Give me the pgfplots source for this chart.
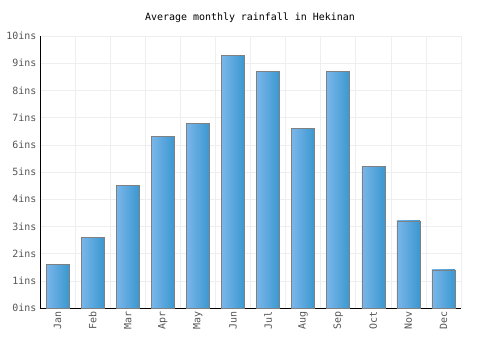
\documentclass[border=0pt]{standalone}
\usepackage{pgfplots}
\pgfplotsset{compat=1.18}
\usepackage{fontspec}
\setmainfont{DejaVu Sans Mono}
\setmonofont{DejaVu Sans Mono}
\definecolor{barL}{RGB}{122,182,234}
\definecolor{barR}{RGB}{58,152,208}
\definecolor{gridc}{RGB}{238,238,238}
\definecolor{lbl}{RGB}{85,85,85}
\pgfplotsset{mybar/.style={ybar, bar shift=0pt, bar width=23bp, draw=gray, line width=0.6pt, left color=barL, right color=barR}}
\begin{document}
\begin{tikzpicture}[x=1bp,y=1bp]
\path (0,0) rectangle (500,350);
\node[font=\fontsize{10}{12}\selectfont, text=black] at (250,332) {Average monthly rainfall in Hekinan};
\begin{axis}[
  at={(40bp,42bp)}, anchor=origin,
  scale only axis, width=421bp, height=272bp,
  xmin=0.5, xmax=12.5, ymin=0, ymax=10,
  axis x line*=bottom, axis y line*=left,
  axis line style={black, line width=0.8pt, -},
  xtick={1,...,12},
  xticklabels={Jan,Feb,Mar,Apr,May,Jun,Jul,Aug,Sep,Oct,Nov,Dec},
  x tick label style={rotate=90, anchor=east, font=\fontsize{10}{12}\selectfont, text=lbl},
  minor xtick={0.5,1.5,...,12.5},
  ytick={0,1,...,10},
  yticklabels={0ins,1ins,2ins,3ins,4ins,5ins,6ins,7ins,8ins,9ins,10ins},
  y tick label style={font=\fontsize{10}{12}\selectfont, text=lbl},
  major tick length=0pt, minor tick length=0pt,
  ymajorgrids, xminorgrids,
  major grid style={gridc, line width=0.6pt},
  minor grid style={gridc, line width=0.6pt},
  enlargelimits=false, clip=false,
]
\addplot[mybar] coordinates {(1,1.6)};
\addplot[mybar] coordinates {(2,2.6)};
\addplot[mybar] coordinates {(3,4.5)};
\addplot[mybar] coordinates {(4,6.3)};
\addplot[mybar] coordinates {(5,6.8)};
\addplot[mybar] coordinates {(6,9.3)};
\addplot[mybar] coordinates {(7,8.7)};
\addplot[mybar] coordinates {(8,6.6)};
\addplot[mybar] coordinates {(9,8.7)};
\addplot[mybar] coordinates {(10,5.2)};
\addplot[mybar] coordinates {(11,3.2)};
\addplot[mybar] coordinates {(12,1.4)};
\end{axis}
\end{tikzpicture}
\end{document}
